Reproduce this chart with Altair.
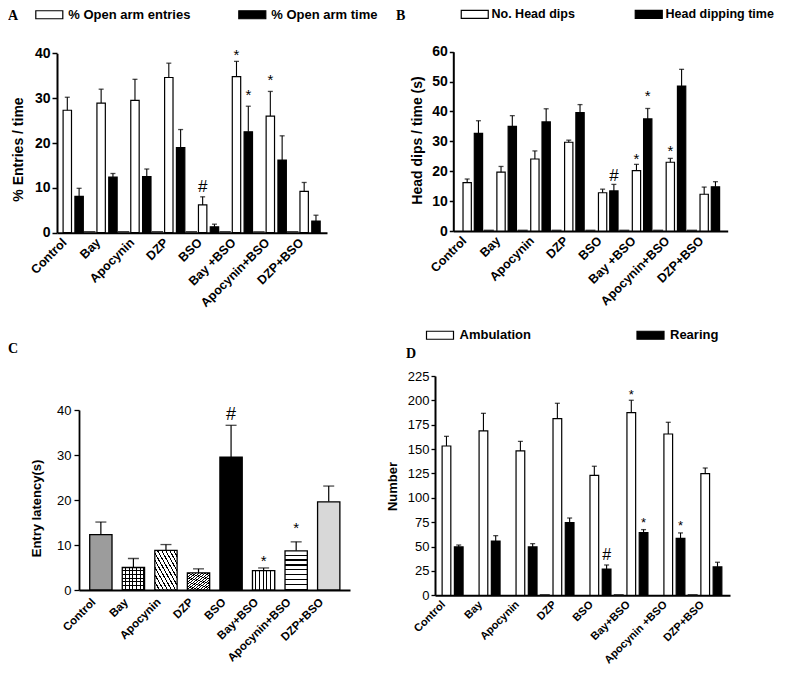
import json
import altair as alt
import pandas as pd

# ---------------- data ----------------
groups_A = ["Control", "Bay", "Apocynin", "DZP", "BSO", "Bay +BSO", "Apocynin+BSO", "DZP+BSO"]
groups_B = ["Control", "Bay", "Apocynin", "DZP", "BSO", "Bay +BSO", "Apocynin+BSO", "DZP+BSO"]
groups_C = ["Control", "Bay", "Apocynin", "DZP", "BSO", "Bay+BSO", "Apocynin+BSO", "DZP+BSO"]
groups_D = ["Control", "Bay", "Apocynin", "DZP", "BSO", "Bay+BSO", "Apocynin +BSO", "DZP+BSO"]

open_entries = [27.3, 28.9, 29.5, 34.6, 6.2, 34.8, 26.0, 9.2]
open_entries_sem = [2.9, 3.1, 4.7, 3.2, 1.8, 3.4, 5.5, 2.0]
open_time = [8.1, 12.4, 12.5, 19.0, 1.3, 22.5, 16.2, 2.6]
open_time_sem = [1.8, 0.8, 1.7, 4.0, 0.6, 5.7, 5.4, 1.3]

head_dips = [16.2, 19.7, 24.1, 29.7, 12.8, 20.2, 23.0, 12.3]
head_dips_sem = [1.2, 1.9, 2.7, 0.7, 1.2, 2.1, 1.3, 2.4]
dip_time = [32.7, 35.0, 36.5, 39.6, 13.4, 37.5, 48.5, 14.8]
dip_time_sem = [4.2, 3.6, 4.4, 2.7, 2.2, 3.5, 5.6, 1.7]

latency = [12.3, 5.0, 8.8, 3.8, 29.5, 4.3, 8.7, 19.6]
latency_sem = [2.8, 2.0, 1.3, 0.9, 7.1, 0.6, 2.0, 3.5]

ambulation = [153.2, 168.6, 148.1, 181.3, 123.1, 187.4, 165.5, 124.8]
ambulation_sem = [9.9, 18.1, 9.9, 15.7, 9.3, 12.7, 12.0, 5.8]
rearing = [49.6, 55.7, 49.6, 74.6, 27.0, 64.3, 58.5, 29.1]
rearing_sem = [2.0, 5.5, 3.4, 4.7, 4.1, 3.1, 5.5, 4.8]

# small baseline stubs drawn between groups
stubs_A = [0, 1, 2, 3, 4, 5, 6]
stubs_B = [0, 1, 2, 3, 4, 5, 6]
stubs_D = [2, 4, 6]
stub_value_A = 0.35
stub_value_B = 0.45
stub_value_D = 1.2

# significance markers
mk_A_group = [5, 5, 6, 4]
mk_A_series = [0, 1, 0, 0]
mk_A_sym = ["*", "*", "*", "#"]
mk_A_y = [40.4, 31.4, 34.8, 10.3]

mk_B_group = [4, 5, 5, 6]
mk_B_series = [1, 0, 1, 0]
mk_B_sym = ["#", "*", "*", "*"]
mk_B_y = [18.4, 25.1, 46.3, 27.9]

mk_C_group = [4, 5, 6]
mk_C_sym = ["#", "*", "*"]
mk_C_y = [38.9, 7.2, 14.4]

mk_D_group = [5, 5, 6, 4]
mk_D_series = [0, 1, 1, 1]
mk_D_sym = ["*", "*", "*", "#"]
mk_D_y = [208.8, 77.2, 73.8, 41.3]

# ---------------- layout / style ----------------
H = 659
SANS = "Liberation Sans"
SERIF = "Liberation Serif"
RECT = "M-3.375,-1H3.375V1H-3.375Z"


def x_axis(groups, geo):
    off = geo["label_off"]
    return alt.Axis(
        orient="bottom",
        values=[i + off for i in range(len(groups))],
        labelExpr=f"{json.dumps(groups)}[round(datum.value - ({off}))]",
        labelAngle=315, labelAlign="right", labelBaseline="top",
        labelFont=SANS, labelFontWeight="bold", labelFontSize=geo["xlab_fs"],
        labelColor="black", labelPadding=geo["xlab_pad"], labelOverlap=False,
        labelFlush=False, labelBound=False, ticks=False, grid=False,
        domainColor="black", domainWidth=geo["dom_w"], title=None,
        offset=geo["yrange"][0] - H,
    )


def y_axis(geo):
    return alt.Axis(
        orient="left",
        values=geo["yticks"], grid=False, offset=-geo["xrange"][0],
        domainColor="black", domainWidth=geo["dom_w"], tickColor="black",
        tickWidth=geo["tick_w"], tickSize=geo["tick_size"],
        labelFont=SANS, labelFontSize=geo["ylab_fs"], labelFontWeight=geo["ylab_fw"],
        labelColor="black", labelPadding=geo["ylab_pad"], labelFlush=False,
        title=geo["title"], titleFont=SANS, titleFontSize=geo["title_fs"],
        titleFontWeight="bold", titleColor="black", titleAngle=270,
        titleAlign="center", titleBaseline="middle",
        titleX=geo["title_x"], titleY=geo["title_y"],
    )


def enc_x(groups, geo):
    return alt.X("pos:Q", scale=alt.Scale(domain=geo["xdom"], range=geo["xrange"], nice=False, zero=False),
                 axis=x_axis(groups, geo))


def enc_y(field, geo):
    return alt.Y(f"{field}:Q", scale=alt.Scale(domain=geo["ydom"], range=geo["yrange"], nice=False, zero=True),
                 axis=y_axis(geo))


def letter(ch, x, y):
    return alt.Chart(pd.DataFrame({"t": [ch]})).mark_text(
        font=SERIF, fontWeight="bold", fontSize=14, align="left", baseline="alphabetic", color="black"
    ).encode(text="t:N", x=alt.value(x), y=alt.value(y))


def grouped_panel(groups, names, s1, s1e, s2, s2e, stubs, stub_value, mk_g, mk_s, mk_sym, mk_y, geo):
    offs = [0.0, geo["black_off"]]
    rows = []
    for i, g in enumerate(groups):
        for k, (vals, errs) in enumerate([(s1, s1e), (s2, s2e)]):
            rows.append({"group": g, "series": names[k], "pos": i + offs[k],
                         "value": vals[i], "top": vals[i] + errs[i]})
    df = pd.DataFrame(rows)
    stub_df = pd.DataFrame({"pos": [i + geo["stub_off"] for i in stubs], "value": [stub_value] * len(stubs)})
    mk_df = pd.DataFrame({"pos": [g + offs[s] for g, s in zip(mk_g, mk_s)], "sym": mk_sym, "my": mk_y})

    X = enc_x(groups, geo)
    legend = alt.Legend(
        title=None, orient="none", legendX=geo["lx"], legendY=geo["ly"], direction="horizontal",
        symbolType=RECT, symbolSize=64, symbolStrokeColor="black", symbolStrokeWidth=1.2,
        symbolOpacity=1, labelFont=SANS, labelFontSize=geo["leg_fs"], labelFontWeight="bold",
        labelColor="black", labelOffset=geo["leg_off"], columnPadding=geo["leg_col"],
        padding=0, offset=0, labelLimit=0,
    )
    bars = alt.Chart(df).mark_bar(width=geo["bw"], stroke="black", strokeWidth=1.2, opacity=1).encode(
        x=X, y=enc_y("value", geo),
        fill=alt.Fill("series:N", scale=alt.Scale(domain=names, range=["white", "black"]), legend=legend),
    )
    stub = alt.Chart(stub_df).mark_bar(width=geo["stub_w"], fill="#222222", stroke=None).encode(
        x=X, y=enc_y("value", geo))
    errs = alt.Chart(df).mark_rule(color="black", strokeWidth=1.1).encode(
        x=X, y=enc_y("value", geo), y2="top:Q")
    caps = alt.Chart(df).mark_tick(orient="horizontal", size=geo["cap"], thickness=1.3, color="black").encode(
        x=X, y=enc_y("top", geo))
    stars = alt.Chart(mk_df).transform_filter(alt.datum.sym == "*").mark_text(
        font=SANS, fontSize=geo["star_fs"], baseline="middle", dy=3, color="black").encode(
        x=X, y=enc_y("my", geo), text="sym:N")
    hashes = alt.Chart(mk_df).transform_filter(alt.datum.sym == "#").mark_text(
        font=SANS, fontSize=geo["hash_fs"], baseline="middle", dy=0, color="black").encode(
        x=X, y=enc_y("my", geo), text="sym:N")
    return alt.layer(bars, stub, errs, caps, stars, hashes, letter(geo["letter"], *geo["letter_xy"]))


def stripes(n, frac, ink, paper, x1, y1, x2, y2):
    stops = []
    for k in range(n):
        a = k / n
        b = (k + 1 - frac) / n
        c = (k + 1) / n
        stops += [alt.GradientStop(offset=a, color=paper), alt.GradientStop(offset=b, color=paper),
                  alt.GradientStop(offset=b, color=ink), alt.GradientStop(offset=c, color=ink)]
    return alt.LinearGradient(gradient="linear", stops=stops, x1=x1, y1=y1, x2=x2, y2=y2)


geo_A = dict(xdom=[-0.1565, 7.527], xrange=[49, 319], ydom=[0, 40], yrange=[224.7, 45.3],
             yticks=[0, 10, 20, 30, 40], black_off=0.349, stub_off=0.663, bw=8.4, stub_w=11.5, cap=5,
             label_off=-0.22, xlab_fs=12.5, xlab_pad=3, dom_w=2, tick_w=1.5, tick_size=5,
             ylab_fs=14, ylab_fw="bold", ylab_pad=2, title="% Entries / time", title_fs=14,
             title_x=-39, title_y=141, lx=34.8, ly=0, leg_fs=13, leg_off=12.5, leg_col=45,
             star_fs=15, hash_fs=17, letter="A", letter_xy=(0, 12))
geo_B = dict(xdom=[-0.262, 7.547], xrange=[445.3, 719.7], ydom=[0, 60], yrange=[223, 43.7],
             yticks=[0, 10, 20, 30, 40, 50, 60], black_off=0.333, stub_off=0.64, bw=8.3, stub_w=10, cap=5,
             label_off=-0.22, xlab_fs=12.5, xlab_pad=3, dom_w=2, tick_w=1.5, tick_size=4,
             ylab_fs=14, ylab_fw="bold", ylab_pad=2, title="Head dips / time (s)", title_fs=14,
             title_x=-35.6, title_y=132, lx=460.5, ly=0, leg_fs=12.5, leg_off=10.5, leg_col=57,
             star_fs=15, hash_fs=17, letter="B", letter_xy=(388, 12))
geo_D = dict(xdom=[-0.175, 7.535], xrange=[427, 722], ydom=[0, 225], yrange=[587.3, 368],
             yticks=list(range(0, 226, 25)), black_off=0.332, stub_off=0.66, bw=8.7, stub_w=10, cap=5,
             label_off=-0.2, xlab_fs=11, xlab_pad=3, dom_w=2, tick_w=1.3, tick_size=4,
             ylab_fs=13, ylab_fw="normal", ylab_pad=2, title="Number", title_fs=13,
             title_x=-43, title_y=478, lx=425.5, ly=320.5, leg_fs=13, leg_off=13, leg_col=102.5,
             star_fs=13, hash_fs=16, letter="D", letter_xy=(398, 350))
geo_C = dict(xdom=[-0.518, 7.5], xrange=[71, 342], ydom=[0, 40], yrange=[582, 402],
             yticks=[0, 10, 20, 30, 40], bw=22.3, cap=11, label_off=-0.35, xlab_fs=11.5, xlab_pad=6,
             dom_w=1.8, tick_w=1.3, tick_size=5, ylab_fs=13, ylab_fw="normal", ylab_pad=3,
             title="Entry latency(s)", title_fs=13, title_x=-42.3, title_y=500,
             star_fs=15, hash_fs=18, letter="C", letter_xy=(0, 345))

panel_A = grouped_panel(groups_A, ["% Open arm entries", "% Open arm time"], open_entries, open_entries_sem,
                        open_time, open_time_sem, stubs_A, stub_value_A, mk_A_group, mk_A_series, mk_A_sym,
                        mk_A_y, geo_A)
panel_B = grouped_panel(groups_B, ["No. Head dips", "Head dipping time"], head_dips, head_dips_sem,
                        dip_time, dip_time_sem, stubs_B, stub_value_B, mk_B_group, mk_B_series, mk_B_sym,
                        mk_B_y, geo_B)
panel_D = grouped_panel(groups_D, ["Ambulation", "Rearing"], ambulation, ambulation_sem,
                        rearing, rearing_sem, stubs_D, stub_value_D, mk_D_group, mk_D_series, mk_D_sym,
                        mk_D_y, geo_D)

# ---------------- panel C (single series, patterned bars) ----------------
df_C = pd.DataFrame({"group": groups_C, "pos": list(range(len(groups_C))), "value": latency,
                     "top": [v + e for v, e in zip(latency, latency_sem)]})
mk_C = pd.DataFrame({"pos": mk_C_group, "sym": mk_C_sym, "my": mk_C_y})
XC = enc_x(groups_C, geo_C)
CLEAR = "rgba(0,0,0,0)"
fills_C = {
    "Control": ["#9c9c9c"],
    "Bay": [stripes(6, 0.3, "black", "white", 0, 0, 1, 0), stripes(6, 0.3, "black", CLEAR, 0, 0, 0, 1)],
    "Apocynin": [stripes(11, 0.3, "black", "white", 1, 0, 0, 1)],
    "DZP": [stripes(14, 0.45, "black", "white", 0, 0, 1, 1)],
    "BSO": ["black"],
    "Bay+BSO": [stripes(6, 0.28, "black", "white", 0, 0, 1, 0)],
    "Apocynin+BSO": [stripes(8, 0.25, "black", "white", 0, 0, 0, 1)],
    "DZP+BSO": ["#d8d8d8"],
}
c_layers = []
for g in groups_C:
    fl = fills_C[g]
    for j, f in enumerate(fl):
        last = j == len(fl) - 1
        c_layers.append(
            alt.Chart(df_C).transform_filter(alt.datum.group == g).mark_bar(
                width=geo_C["bw"], fill=f, stroke="black" if last else None,
                strokeWidth=1.3 if last else 0, opacity=1).encode(x=XC, y=enc_y("value", geo_C))
        )
c_errs = alt.Chart(df_C).mark_rule(color="black", strokeWidth=1.2).encode(
    x=XC, y=enc_y("value", geo_C), y2="top:Q")
c_caps = alt.Chart(df_C).mark_tick(orient="horizontal", size=geo_C["cap"], thickness=1.3, color="black").encode(
    x=XC, y=enc_y("top", geo_C))
c_stars = alt.Chart(mk_C).transform_filter(alt.datum.sym == "*").mark_text(
    font=SANS, fontSize=geo_C["star_fs"], baseline="middle", dy=3, color="black").encode(
    x=XC, y=enc_y("my", geo_C), text="sym:N")
c_hash = alt.Chart(mk_C).transform_filter(alt.datum.sym == "#").mark_text(
    font=SANS, fontSize=geo_C["hash_fs"], baseline="middle", color="black").encode(
    x=XC, y=enc_y("my", geo_C), text="sym:N")
panel_C = alt.layer(c_errs, *c_layers, c_caps, c_stars, c_hash, letter(geo_C["letter"], *geo_C["letter_xy"]))

chart = (
    alt.layer(panel_A, panel_B, panel_C, panel_D)
    .resolve_scale(x="independent", y="independent", fill="independent")
    .resolve_axis(x="independent", y="independent")
    .properties(width=771, height=659, padding=0, autosize=alt.AutoSizeParams(type="none"),
                background="white")
    .configure_view(stroke=None)
)

chart.save("out.html", embed_options={"renderer": "svg", "actions": False})
